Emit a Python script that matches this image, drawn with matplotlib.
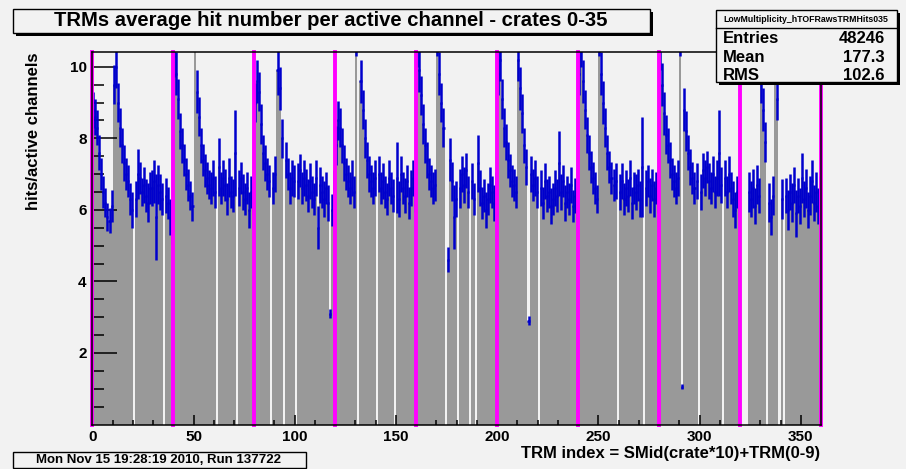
import numpy as np
import matplotlib
matplotlib.use("Agg")
import matplotlib.pyplot as plt
from matplotlib.patches import Rectangle

plt.rcParams['font.family'] = ['Liberation Sans', 'DejaVu Sans']
plt.rcParams['font.weight'] = 'bold'

# ---------------- data (hits / active channel per TRM bin) ----------------
hits_000_039 = [8.8, 8.6, 8.3, 7.6, 7.0, 6.5, 6.2, 5.8, 5.7, 6.1,
                9.5, 10.0, 9.0, 8.3, 7.8, 7.3, 7.0, 6.8, 6.3, 6.0,
                0, 6.3, 7.0, 6.9, 6.5, 6.7, 6.4, 6.2, 6.6, 6.6,
                6.8, 5.8, 6.7, 6.5, 6.3, 0, 6.4, 6.2, 5.8, 5.6]
hits_040_079 = [10.3, 9.8, 9.1, 8.2, 7.8, 7.4, 7.0, 6.7, 6.4, 6.1,
                11.5, 9.3, 8.6, 7.8, 7.4, 7.1, 6.9, 6.7, 6.6, 6.9,
                6.5, 0, 7.2, 6.6, 6.9, 6.7, 6.3, 6.9, 6.5, 6.4,
                7.6, 0, 6.6, 6.9, 6.5, 6.3, 6.6, 6.0, 6.5, 6.3]
hits_080_119 = [9.0, 9.6, 9.3, 8.4, 7.6, 7.3, 7.0, 6.8, 0, 6.6,
                7.0, 9.9, 9.4, 8.0, 0, 7.4, 7.0, 6.6, 6.9, 6.8,
                0, 6.8, 7.1, 6.6, 6.9, 6.7, 6.4, 6.8, 6.5, 6.3,
                6.9, 5.5, 6.7, 6.5, 6.3, 6.6, 6.2, 3.1, 6.0, 6.6]
hits_120_159 = [7.8, 8.5, 8.3, 7.8, 7.3, 7.0, 6.8, 6.6, 6.9, 6.5,
                11.0, 0, 9.6, 8.8, 8.0, 7.4, 7.0, 6.8, 6.6, 6.9,
                0, 7.0, 6.6, 6.8, 6.5, 6.3, 6.9, 6.6, 6.4, 0,
                6.9, 6.3, 7.0, 6.6, 6.4, 6.8, 6.2, 6.6, 6.9, 6.4]
hits_160_199 = [10.6, 9.9, 9.2, 8.4, 7.8, 7.4, 7.0, 6.8, 6.6, 6.7,
                11.0, 9.8, 9.0, 8.3, 0, 4.6, 7.4, 6.8, 5.8, 6.3,
                0, 6.6, 7.0, 6.7, 7.1, 6.5, 0, 6.8, 6.3, 0,
                7.3, 6.6, 6.2, 6.4, 6.0, 6.3, 6.7, 6.5, 6.2, 6.6]
hits_200_239 = [9.8, 10.2, 9.1, 8.3, 7.9, 7.4, 7.1, 6.8, 6.7, 6.5,
                10.2, 9.4, 8.7, 7.8, 7.2, 2.9, 7.0, 6.7, 6.9, 6.5,
                0, 6.6, 6.2, 6.8, 6.4, 6.5, 6.1, 6.3, 6.6, 6.4,
                7.3, 6.5, 6.8, 6.2, 6.5, 6.3, 6.7, 6.1, 6.4, 6.2]
hits_240_279 = [9.8, 10.6, 9.6, 8.8, 8.1, 7.6, 7.2, 6.9, 6.6, 6.3,
                11.0, 9.8, 9.0, 8.3, 7.6, 7.2, 6.9, 6.7, 6.8, 0,
                6.5, 6.8, 6.3, 6.6, 6.4, 6.9, 6.2, 6.6, 6.5, 6.7,
                6.3, 7.2, 0, 6.6, 6.8, 6.4, 6.7, 6.3, 6.6, 6.4]
hits_280_319 = [10.5, 9.5, 8.7, 8.1, 7.8, 7.4, 7.0, 6.8, 6.6, 6.9,
                11.0, 1.06, 8.8, 8.2, 7.6, 7.2, 6.9, 6.6, 6.8, 0,
                6.5, 7.1, 6.9, 7.2, 6.8, 6.6, 7.0, 6.5, 6.9, 7.6,
                6.7, 0, 6.9, 6.5, 7.0, 6.6, 6.3, 6.0, 6.5, 6.3]
hits_320_359 = [0, 0, 0, 0, 6.5, 6.3, 6.6, 6.1, 6.7, 6.4,
                9.6, 8.8, 7.9, 0, 6.2, 5.8, 6.4, 11.0, 9.1, 0,
                6.3, 0, 6.4, 6.0, 6.5, 6.2, 6.7, 5.9, 6.4, 6.1,
                6.9, 6.3, 6.6, 6.0, 6.4, 6.8, 6.2, 6.5, 6.1, 6.4]

err_000_039 = [0.5, 0.5, 0.5, 0.5, 0.45, 0.45, 0.4, 0.4, 0.35, 0.45,
               0.55, 0.6, 0.55, 0.55, 0.5, 0.5, 0.45, 0.45, 0.45, 0.5,
               0, 0.5, 0.7, 0.45, 0.4, 0.5, 0.45, 0.55, 0.45, 0.5,
               0.6, 1.2, 0.55, 0.5, 0.45, 0, 0.5, 0.45, 0.5, 0.55]
err_040_079 = [0.6, 0.6, 0.55, 0.5, 0.5, 0.45, 0.45, 0.45, 0.4, 0.4,
               0.7, 0.6, 0.55, 0.5, 0.45, 0.45, 0.45, 0.4, 0.45, 0.5,
               0.45, 0, 0.8, 0.45, 0.5, 0.45, 0.45, 0.55, 0.45, 0.45,
               1.2, 0, 0.5, 0.45, 0.5, 0.45, 0.45, 0.5, 0.45, 0.45]
err_080_119 = [0.55, 0.6, 0.55, 0.55, 0.5, 0.5, 0.45, 0.45, 0, 0.45,
               0.5, 0.7, 0.6, 0.55, 0, 0.5, 0.45, 0.45, 0.5, 0.45,
               0, 0.5, 0.45, 0.45, 0.5, 0.45, 0.45, 0.5, 0.45, 0.45,
               0.5, 0.6, 0.5, 0.45, 0.5, 0.45, 0.5, 0.12, 0.45, 0.5]
err_120_159 = [0.55, 0.55, 0.55, 0.5, 0.5, 0.45, 0.45, 0.45, 0.5, 0.45,
               0.7, 0, 0.6, 0.55, 0.55, 0.5, 0.5, 0.45, 0.45, 0.5,
               0, 0.5, 0.45, 0.5, 0.45, 0.45, 0.5, 0.45, 0.45, 0,
               1.0, 0.5, 0.5, 0.45, 0.5, 0.45, 0.45, 0.5, 0.5, 0.45]
err_160_199 = [0.6, 0.6, 0.55, 0.55, 0.5, 0.5, 0.45, 0.45, 0.45, 0.45,
               0.7, 0.6, 0.55, 0.55, 0, 0.35, 0.6, 0.55, 0.9, 0.5,
               0, 0.55, 0.5, 0.5, 0.5, 0.45, 0, 0.5, 0.45, 0,
               0.8, 0.5, 0.45, 0.45, 0.5, 0.45, 0.5, 0.45, 0.5, 0.45]
err_200_239 = [0.6, 0.6, 0.55, 0.55, 0.5, 0.5, 0.45, 0.45, 0.45, 0.45,
               0.6, 0.6, 0.55, 0.5, 0.5, 0.12, 0.5, 0.45, 0.5, 0.45,
               0, 0.5, 0.45, 0.5, 0.45, 0.45, 0.5, 0.45, 0.5, 0.45,
               0.9, 0.5, 0.45, 0.5, 0.45, 0.45, 0.5, 0.45, 0.5, 0.45]
err_240_279 = [0.6, 0.6, 0.6, 0.55, 0.5, 0.5, 0.45, 0.45, 0.45, 0.4,
               0.7, 0.6, 0.6, 0.55, 0.5, 0.45, 0.45, 0.45, 0.5, 0,
               0.5, 0.5, 0.45, 0.5, 0.45, 0.5, 0.45, 0.45, 0.5, 0.45,
               0.5, 1.4, 0, 0.5, 0.45, 0.5, 0.45, 0.5, 0.45, 0.5]
err_280_319 = [0.6, 0.6, 0.6, 0.55, 0.5, 0.5, 0.45, 0.45, 0.45, 0.5,
               0.7, 0.06, 0.6, 0.55, 0.5, 0.5, 0.45, 0.45, 0.5, 0,
               0.5, 0.5, 0.5, 0.45, 0.5, 0.45, 0.5, 0.45, 0.5, 1.2,
               0.5, 0, 0.5, 0.45, 0.5, 0.45, 0.5, 0.5, 0.45, 0.5]
err_320_359 = [0, 0, 0, 0, 0.55, 0.5, 0.55, 0.5, 0.55, 0.5,
               0.6, 0.6, 0.55, 0, 0.55, 0.5, 0.55, 0.7, 0.6, 0,
               0.55, 0, 0.5, 0.55, 0.5, 0.55, 0.5, 0.65, 0.5, 0.5,
               0.7, 0.5, 0.55, 0.5, 0.55, 0.6, 0.5, 0.55, 0.5, 0.55]

separators = [0, 40, 80, 120, 160, 200, 240, 280, 320, 360]
x_major = [0, 50, 100, 150, 200, 250, 300, 350]
y_major = [2, 4, 6, 8, 10]

title = "TRMs average hit number per active channel - crates 0-35"
xlabel = "TRM index = SMid(crate*10)+TRM(0-9)"
ylabel = "hits/active channels"
stats_name = "LowMultiplicity_hTOFRawsTRMHits035"
stats_rows = [("Entries", "48246"), ("Mean", "177.3"), ("RMS", "102.6")]
footer = "Mon Nov 15 19:28:19 2010, Run 137722"

values = np.array(hits_000_039 + hits_040_079 + hits_080_119 + hits_120_159 +
                  hits_160_199 + hits_200_239 + hits_240_279 + hits_280_319 +
                  hits_320_359, dtype=float)
errors = np.array(err_000_039 + err_040_079 + err_080_119 + err_120_159 +
                  err_160_199 + err_200_239 + err_240_279 + err_280_319 +
                  err_320_359, dtype=float)

# ---------------- figure ----------------
W, H = 906, 469
BG = '#f2f2f2'
fig = plt.figure(figsize=(W / 100, H / 100), dpi=100, facecolor=BG)


def fx(px):
    return px / W


def fy(py):
    return 1 - py / H


x0p, x1p, y0p, y1p = 92.3, 821.0, 51.7, 424.5
ax = fig.add_axes([fx(x0p), fy(y1p), (x1p - x0p) / W, (y1p - y0p) / H])
ax.set_facecolor(BG)

edges = np.arange(len(values) + 1)
ax.stairs(values, edges, fill=True, color='#999999', linewidth=0, baseline=0, zorder=1)

centers = edges[:-1] + 0.5
mask = values > 0
ax.errorbar(centers[mask], values[mask], yerr=errors[mask], xerr=0.5, fmt='none',
            ecolor='#0000cc', elinewidth=1.8, capsize=0, zorder=3)

for s in separators:
    ax.axvline(s, color='#ff00ff', lw=2.8, zorder=5, clip_on=False)

ax.set_xlim(0, 360)
ax.set_ylim(0, 10.42)

ax.set_xticks(x_major)
ax.set_xticks(np.arange(0, 361, 10), minor=True)
ax.set_yticks(y_major)
ax.set_yticks(np.arange(0.5, 10.42, 0.5), minor=True)
ax.tick_params(axis='y', which='major', direction='in', length=18, width=1.1, pad=4,
               labelsize=11, left=True, right=False)
ax.tick_params(axis='y', which='minor', direction='in', length=8.6, width=1.1, left=True, right=False)
ax.tick_params(axis='x', which='major', direction='in', length=7, width=1.1, pad=4,
               labelsize=11, bottom=True, top=False)
ax.tick_params(axis='x', which='minor', direction='in', length=3.6, width=1.1, bottom=True, top=False)
for t in ax.get_xticklabels() + ax.get_yticklabels():
    t.set_fontweight('bold')
for sp in ax.spines.values():
    sp.set_color('black')
    sp.set_linewidth(1.1)
    sp.set_zorder(6)

# axis titles
fig.text(fx(820), fy(453), xlabel, ha='right', va='center', fontsize=12, fontweight='bold')
fig.text(fx(34), fy(52), ylabel, ha='center', va='top', rotation=90, fontsize=12, fontweight='bold')


def box(xa, ya, xb, yb, shadow=3):
    if shadow:
        fig.patches.append(Rectangle((fx(xa + shadow), fy(yb + shadow)), (xb - xa) / W, (yb - ya) / H,
                                     transform=fig.transFigure, facecolor='black', edgecolor='none', zorder=10))
    fig.patches.append(Rectangle((fx(xa), fy(yb)), (xb - xa) / W, (yb - ya) / H,
                                 transform=fig.transFigure, facecolor=BG, edgecolor='black', lw=1.0, zorder=11))


# title box
box(13, 9, 650, 33, shadow=3)
fig.text(fx(331), fy(21), title, ha='center', va='center', fontsize=14.6, fontweight='bold', zorder=12)

# stats box
box(716, 10, 897, 82, shadow=3)
fig.lines.append(plt.Line2D([fx(716), fx(897)], [fy(28), fy(28)], transform=fig.transFigure,
                            color='black', lw=1.0, zorder=12))
fig.text(fx(806), fy(19), stats_name, ha='center', va='center', fontsize=6.3, fontweight='bold', zorder=12)
row_y = [38.5, 57.3, 76]
for (k, v), yy in zip(stats_rows, row_y):
    fig.text(fx(723), fy(yy), k, ha='left', va='center', fontsize=12, fontweight='bold', zorder=12)
    fig.text(fx(885), fy(yy), v, ha='right', va='center', fontsize=12, fontweight='bold', zorder=12)

# footer box
box(13, 452, 306, 468, shadow=0)
fig.text(fx(158), fy(459.5), footer, ha='center', va='center', fontsize=9.5, fontweight='bold', zorder=12)

fig.savefig('out.png', dpi=100, facecolor=BG)
